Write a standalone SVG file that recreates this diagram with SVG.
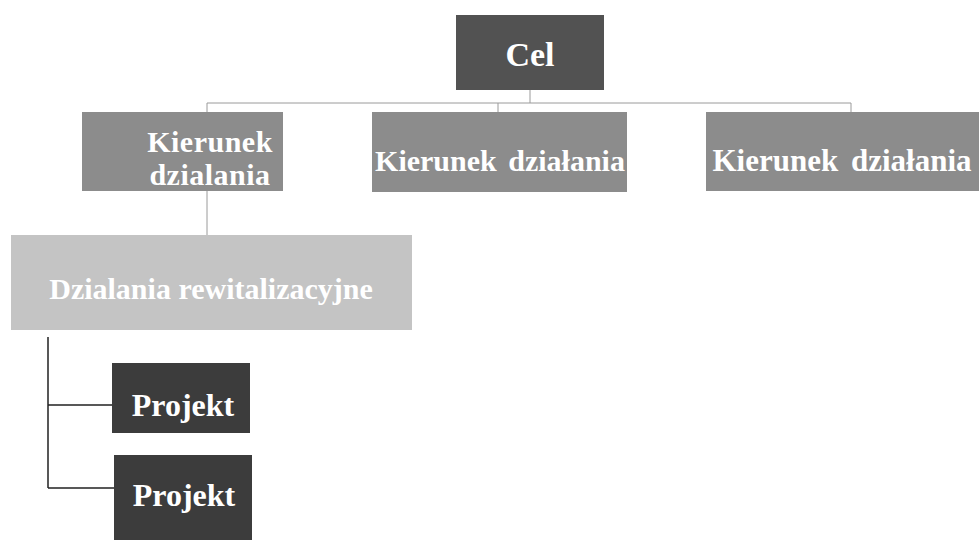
<svg xmlns="http://www.w3.org/2000/svg" width="979" height="540" viewBox="0 0 979 540">
<style>
.t{font-family:"Liberation Serif","Times New Roman",serif;font-weight:bold;fill:#ffffff;text-anchor:middle}
.thin{stroke:#9a9a9a;stroke-width:1;fill:none}
.blk{stroke:#222;stroke-width:1.5;fill:none}
</style>
<rect width="979" height="540" fill="#ffffff"/>
<g id="connectors">
<path class="thin" d="M530 90V103M207 103H851M207 103V112M498 103V112M851 103V112M207 191V235"/>
<path class="blk" d="M48 337V488M48 405H112M48 488H114"/>
</g>
<g id="cel">
<rect x="456" y="15" width="148" height="75" fill="#525252"/>
<text class="t" x="530" y="66" font-size="34">Cel</text>
</g>
<g id="kierunek1">
<rect x="82" y="112" width="201" height="79" fill="#8c8c8c"/>
<text class="t" x="210" y="152" font-size="30" letter-spacing="0.5">Kierunek</text>
<text class="t" x="210" y="185" font-size="30" letter-spacing="0.5">dzialania</text>
</g>
<g id="kierunek2">
<rect x="372" y="112" width="255" height="80" fill="#8c8c8c"/>
<text class="t" x="500" y="171" font-size="30" word-spacing="4">Kierunek działania</text>
</g>
<g id="kierunek3">
<rect x="706" y="112" width="273" height="79" fill="#8c8c8c"/>
<text class="t" x="842" y="171" font-size="31" word-spacing="5">Kierunek działania</text>
</g>
<g id="dzialania">
<rect x="11" y="235" width="401" height="95" fill="#c4c4c4"/>
<text class="t" x="211" y="299" font-size="30">Dzialania rewitalizacyjne</text>
</g>
<g id="projekt1">
<rect x="112" y="363" width="138" height="70" fill="#3c3c3c"/>
<text class="t" x="183" y="416" font-size="32">Projekt</text>
</g>
<g id="projekt2">
<rect x="114" y="455" width="138" height="85" fill="#3c3c3c"/>
<text class="t" x="184" y="506" font-size="32">Projekt</text>
</g>
</svg>
